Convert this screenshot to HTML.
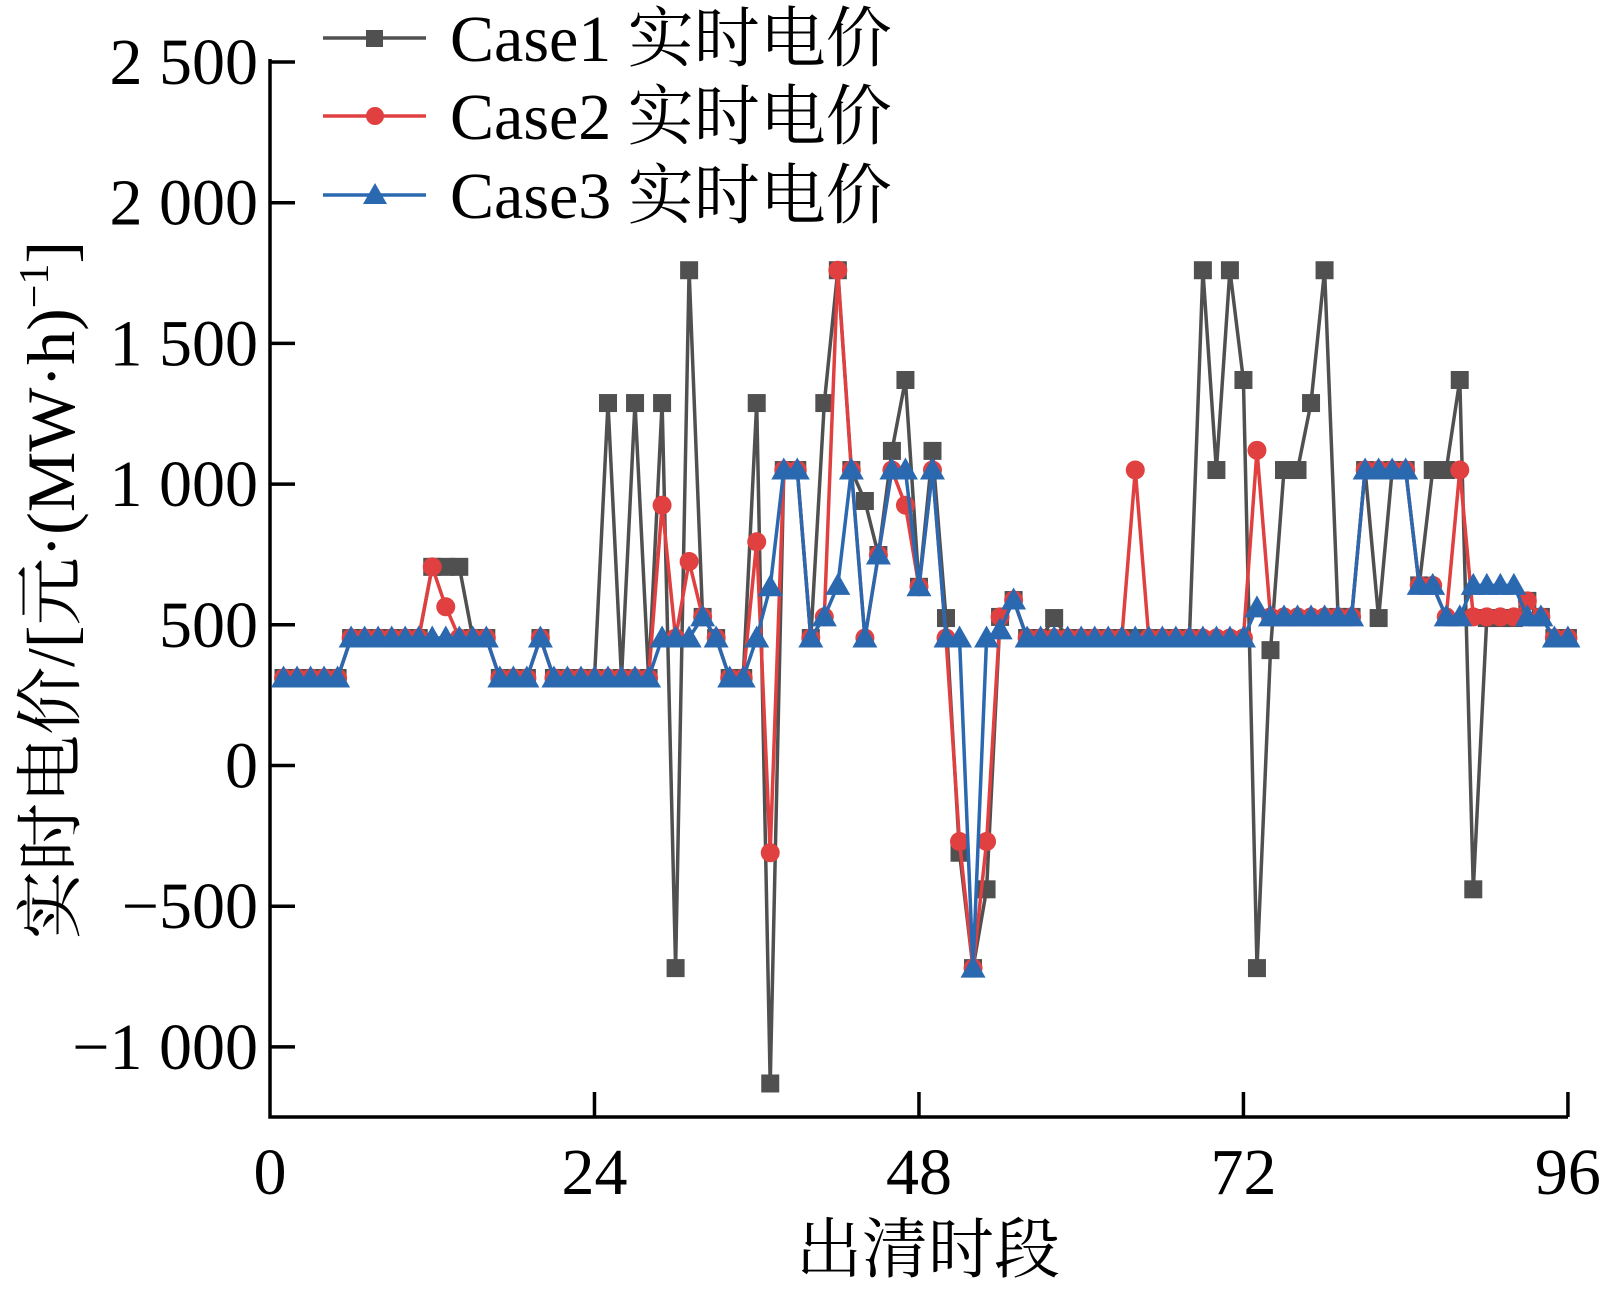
<!DOCTYPE html>
<html><head><meta charset="utf-8"><style>
html,body{margin:0;padding:0;background:#fff;}
svg{display:block;}
text{font-family:"Liberation Serif","Noto Serif CJK SC",serif;fill:#000;}
</style></head><body>
<svg id="s" width="1600" height="1290" viewBox="0 0 1600 1290" xmlns="http://www.w3.org/2000/svg">
<g id="axes" stroke="#000" stroke-width="3.5" fill="none">
<path d="M270 59 V1117 H1568"/>
</g>
<g id="plot"></g>
<g id="lbl" font-size="66"></g>
<g font-size="66">
<line x1="323" y1="38" x2="426" y2="38" stroke="#505050" stroke-width="3.5"/>
<rect x="366" y="30" width="17" height="17" fill="#505050"/>
<text x="450" y="61">Case1 实时电价</text>
<line x1="323" y1="116" x2="426" y2="116" stroke="#e04040" stroke-width="3.5"/>
<circle cx="375" cy="116" r="9" fill="#e04040"/>
<text x="450" y="139">Case2 实时电价</text>
<line x1="323" y1="195" x2="426" y2="195" stroke="#2a68b0" stroke-width="3.5"/>
<polygon points="375,183 387,204 363,204" fill="#2a68b0"/>
<text x="450" y="218">Case3 实时电价</text>
<text x="928" y="1272" text-anchor="middle">出清时段</text>
<text transform="translate(74,590) rotate(-90)" text-anchor="middle" font-size="68">实时电价/[元·(MW·h)<tspan font-size="42" dy="-26">−1</tspan><tspan dy="26">]</tspan></text>
</g>
</svg>
<script>
function rng(a,b,v,o){for(var t=a;t<=b;t++)o[t]=v;}
function mk(spec){var o={};spec.forEach(function(s){if(s.length==2)o[s[0]]=s[1];else rng(s[0],s[1],s[2],o);});return o;}
var blue=mk([[1,5,311],[6,16,453],[17,19,311],[20,453],[21,28,311],[29,31,453],[32,528],[33,453],[34,35,311],[36,453],[37,635],[38,39,1050],[40,453],[41,528],[42,640],[43,1050],[44,453],[45,748],[46,47,1050],[48,635],[49,1050],[50,51,453],[52,-720],[53,453],[54,482],[55,588],[56,72,453],[73,560],[74,80,528],[81,84,1050],[85,86,640],[87,88,528],[89,92,640],[93,94,528],[95,96,453]]);
var red=mk([[1,5,311],[6,11,453],[12,706],[13,564],[14,16,453],[17,19,311],[20,453],[21,28,311],[29,925],[30,453],[31,725],[32,528],[33,453],[34,35,311],[36,795],[37,-310],[38,39,1050],[40,453],[41,528],[42,1760],[43,1050],[44,453],[45,748],[46,1050],[47,925],[48,635],[49,1050],[50,453],[51,-270],[52,-720],[53,-270],[54,528],[55,588],[56,63,453],[64,1050],[65,72,453],[73,1120],[74,80,528],[81,84,1050],[85,86,640],[87,528],[88,1050],[89,92,528],[93,585],[94,528],[95,96,453]]);
var gray=mk([[1,5,311],[6,11,453],[12,14,706],[15,16,453],[17,19,311],[20,453],[21,24,311],[25,1288],[26,311],[27,1288],[28,311],[29,1288],[30,-720],[31,1760],[32,528],[33,453],[34,35,311],[36,1288],[37,-1130],[38,39,1050],[40,453],[41,1288],[42,1760],[43,1050],[44,940],[45,748],[46,1118],[47,1370],[48,635],[49,1118],[50,524],[51,-310],[52,-720],[53,-440],[54,528],[55,588],[56,57,453],[58,524],[59,68,453],[69,1760],[70,1050],[71,1760],[72,1370],[73,-720],[74,410],[75,76,1050],[77,1288],[78,1760],[79,80,528],[81,1050],[82,524],[83,84,1050],[85,640],[86,87,1050],[88,1370],[89,-440],[90,92,524],[93,585],[94,528],[95,96,453]]);
function X(t){return 270+13.52*t;}
function Y(v){return 765.5-0.2814*v;}
var NS="http://www.w3.org/2000/svg",plot=document.getElementById('plot');
function el(n,a,p){var e=document.createElementNS(NS,n);for(var k in a)e.setAttribute(k,a[k]);(p||plot).appendChild(e);return e;}
function series(d,col,m){var pts=[];for(var t=1;t<=96;t++)pts.push(X(t).toFixed(1)+','+Y(d[t]).toFixed(1));
el('polyline',{points:pts.join(' '),fill:'none',stroke:col,'stroke-width':3.5,'stroke-linejoin':'miter'});
for(var t=1;t<=96;t++){var x=X(t),y=Y(d[t]);
if(m=='s')el('rect',{x:x-9,y:y-9,width:18,height:18,fill:col});
else if(m=='c')el('circle',{cx:x,cy:y,r:9.5,fill:col});
else el('polygon',{points:x+','+(y-12.5)+' '+(x+12.5)+','+(y+9.5)+' '+(x-12.5)+','+(y+9.5),fill:col});}}
series(gray,'#505050','s');series(red,'#e04040','c');series(blue,'#2a68b0','t');
var ax=document.getElementById('axes'),lb=document.getElementById('lbl');
var yl=['2 500','2 000','1 500','1 000','500','0','\u2212500','\u22121 000'];
for(var i=0;i<8;i++){var v=2500-500*i,y=Y(v);el('line',{x1:270,y1:y,x2:295,y2:y},ax);
var tx=el('text',{x:258,y:y+22,'text-anchor':'end'},lb);tx.textContent=yl[i];}
for(var i=0;i<=4;i++){var x=X(24*i);if(i>0)el('line',{x1:x,y1:1117,x2:x,y2:1092},ax);
var tx=el('text',{x:x,y:1194,'text-anchor':'middle'},lb);tx.textContent=String(24*i);}
</script>
</body></html>
